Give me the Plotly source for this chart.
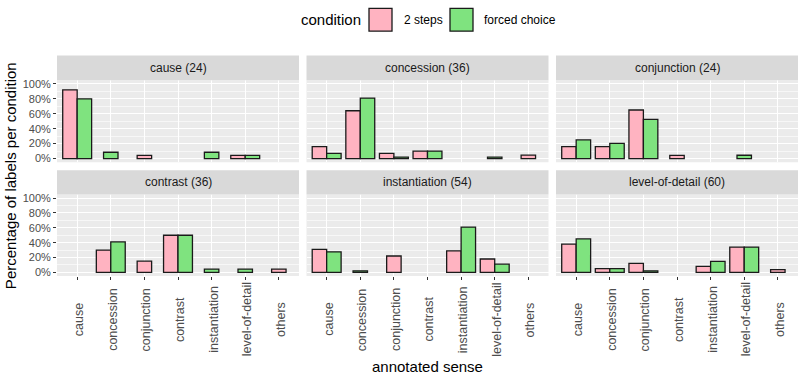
import plotly.graph_objects as go

W, H = 801, 376

categories = ["cause", "concession", "conjunction", "contrast",
              "instantiation", "level-of-detail", "others"]
panels = ["cause (24)", "concession (36)", "conjunction (24)",
          "contrast (36)", "instantiation (54)", "level-of-detail (60)"]
conditions = ["2 steps", "forced choice"]
y_ticks = [0, 0.2, 0.4, 0.6, 0.8, 1.0]

# percentage of labels per condition (None = no bar)
two_steps = [
    [92, None, 4.2, None, None, 4.2, None],
    [16, 64, 7, 10, None, None, 4.5],
    [16, 16, 65, 4.2, None, None, None],
    [None, 30, 15, 50, None, None, 4.4],
    [31, None, 22, None, 29, 18, None],
    [38, 5, 12, None, 8, 34, 3.6],
]
forced_choice = [
    [80, 8.4, None, None, 8.4, 4.2, None],
    [7, 81, 2, 10, None, 2, None],
    [25, 20.4, 52.4, None, None, 4.4, None],
    [None, 41, None, 50, 4.4, 4.4, None],
    [27.6, 2, None, None, 61, 11, None],
    [45, 5, 2, None, 14.7, 34, None],
]

colors = {"2 steps": "#FFB3C1", "forced choice": "#7FE37F"}
FONT = "Liberation Sans, Arial, sans-serif"

cols_px = [(57, 299), (306.5, 548.5), (556, 798)]
rows_px = [(79, 162), (194.5, 277)]
strips_px = [(54, 79), (170, 194.5)]


def fx(px):
    return px / W


def fy(py):
    return 1 - py / H


fig = go.Figure()
shapes = []
annotations = []
BW = 0.43

for p, name in enumerate(panels):
    r, c = divmod(p, 3)
    idx = p + 1
    xa = "x" if idx == 1 else f"x{idx}"
    ya = "y" if idx == 1 else f"y{idx}"
    series = {"2 steps": two_steps[p], "forced choice": forced_choice[p]}
    for cond in conditions:
        xs, ys = [], []
        for i, cat in enumerate(categories):
            v = series[cond][i]
            if v is None:
                continue
            other = series[[k for k in conditions if k != cond][0]][i]
            if other is None:
                pos = i
            else:
                pos = i - BW / 2 if cond == "2 steps" else i + BW / 2
            xs.append(pos)
            ys.append(v / 100)
        fig.add_trace(go.Bar(
            x=xs, y=ys, width=BW, xaxis=xa, yaxis=ya, name=cond,
            showlegend=False,
            marker=dict(color=colors[cond], line=dict(color="#1a1a1a", width=1.3)),
        ))
    x0, x1 = cols_px[c]
    y0, y1 = rows_px[r]
    xkey = "xaxis" if idx == 1 else f"xaxis{idx}"
    ykey = "yaxis" if idx == 1 else f"yaxis{idx}"
    fig.update_layout(**{
        xkey: dict(
            domain=[fx(x0), fx(x1)], anchor=ya, range=[-0.6, 6.6],
            tickvals=list(range(len(categories))), showticklabels=False,
            showgrid=True, gridcolor="white", gridwidth=1.1, zeroline=False,
            ticks="outside" if r == 1 else "", ticklen=3, tickcolor="#333333",
            showline=False, fixedrange=True,
        ),
        ykey: dict(
            domain=[fy(y1), fy(y0)], anchor=xa, range=[-0.05, 1.05],
            tickvals=y_ticks, tickformat=".0%", showticklabels=(c == 0),
            tickfont=dict(family=FONT, size=11, color="#4D4D4D"),
            showgrid=True, gridcolor="white", gridwidth=1.1, zeroline=False,
            ticks="outside" if c == 0 else "", ticklen=3, tickcolor="#333333",
            minor=dict(dtick=0.1, tick0=0, showgrid=True, gridcolor="#F7F7F7",
                       gridwidth=0.5, ticks=""),
            showline=False, fixedrange=True,
        ),
    })
    # panel background
    shapes.append(dict(type="rect", xref="paper", yref="paper", layer="below",
                       x0=fx(x0), x1=fx(x1), y0=fy(y1), y1=fy(y0),
                       fillcolor="#EBEBEB", line=dict(width=0)))
    # strip
    s0, s1 = strips_px[r]
    shapes.append(dict(type="rect", xref="paper", yref="paper",
                       x0=fx(x0), x1=fx(x1), y0=fy(s1), y1=fy(s0),
                       fillcolor="#D9D9D9", line=dict(width=0)))
    annotations.append(dict(text=name, xref="paper", yref="paper",
                            x=fx((x0 + x1) / 2), y=fy((s0 + s1) / 2),
                            showarrow=False, xanchor="center", yanchor="middle",
                            font=dict(family=FONT, size=12, color="#1A1A1A")))
    if r == 1:
        for i, cat in enumerate(categories):
            annotations.append(dict(text=cat, xref=xa, yref="paper",
                                    x=i, y=fy(321), xshift=1.5, textangle=-90,
                                    showarrow=False, xanchor="center", yanchor="middle",
                                    font=dict(family=FONT, size=12.5, color="#4D4D4D")))

# axis titles
annotations.append(dict(text="annotated sense", xref="paper", yref="paper",
                        x=fx(427), y=fy(368), showarrow=False,
                        xanchor="center", yanchor="middle",
                        font=dict(family=FONT, size=15, color="black")))
annotations.append(dict(text="Percentage of labels per condition", xref="paper", yref="paper",
                        x=fx(10), y=fy(176), showarrow=False, textangle=-90,
                        xanchor="center", yanchor="middle",
                        font=dict(family=FONT, size=15, color="black")))

# legend (drawn manually, ggplot style)
annotations.append(dict(text="condition", xref="paper", yref="paper",
                        x=fx(299), y=fy(18), showarrow=False,
                        xanchor="left", yanchor="middle",
                        font=dict(family=FONT, size=15, color="black")))
legend_items = [(conditions[0], 369, 402), (conditions[1], 450, 482)]
for cond, bx, tx in legend_items:
    shapes.append(dict(type="rect", xref="paper", yref="paper",
                       x0=fx(bx), x1=fx(bx + 23), y0=fy(29.5), y1=fy(6.5),
                       fillcolor=colors[cond], line=dict(color="#1a1a1a", width=1.3)))
    annotations.append(dict(text=cond, xref="paper", yref="paper",
                            x=fx(tx), y=fy(18), showarrow=False,
                            xanchor="left", yanchor="middle",
                            font=dict(family=FONT, size=12, color="black")))

fig.update_layout(
    width=W, height=H, margin=dict(l=0, r=0, t=0, b=0),
    paper_bgcolor="white", plot_bgcolor="rgba(0,0,0,0)",
    barmode="overlay", showlegend=False,
    shapes=shapes, annotations=annotations,
    font=dict(family=FONT),
)

fig.write_html("out.html")
